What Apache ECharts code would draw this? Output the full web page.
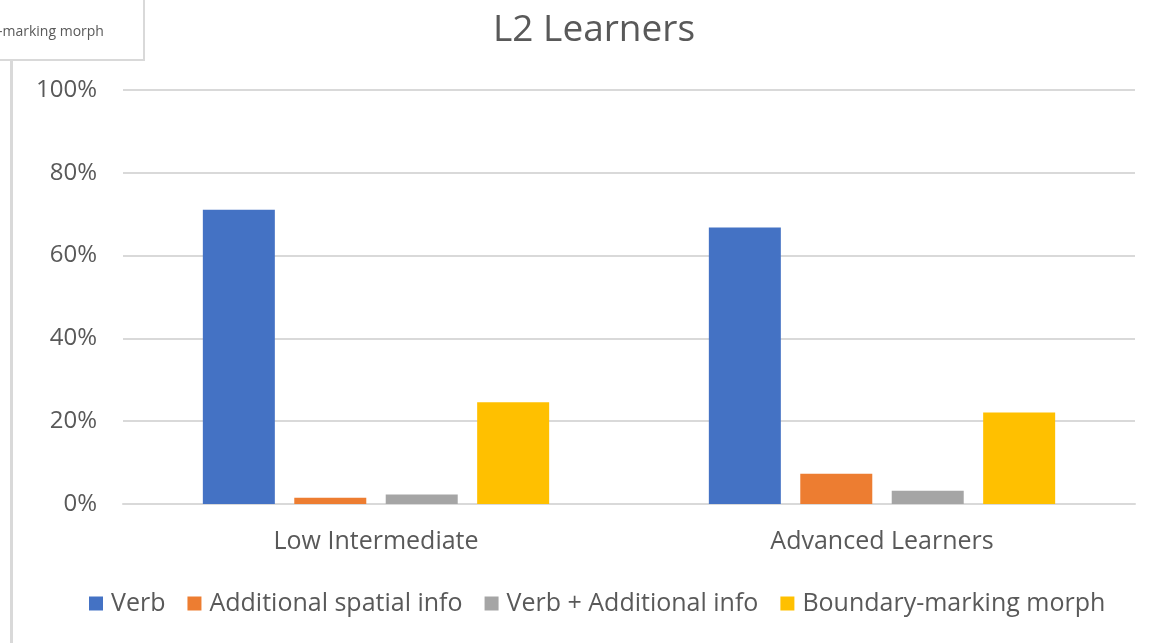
<!DOCTYPE html>
<html>
<head>
<meta charset="utf-8">
<script src="https://cdn.jsdelivr.net/npm/echarts@6/dist/echarts.min.js"></script>
<style>
    html, body { margin: 0; padding: 0; background: #fff; }
    #chart { width: 1151px; height: 643px; }
</style>
</head>
<body>
<div id="chart"></div>
<script>
var categories = ['Low Intermediate', 'Advanced Learners'];
var seriesNames = ['Verb', 'Additional spatial info', 'Verb + Additional info', 'Boundary-marking morph'];
var verb = [71.1, 66.8];
var spatial = [1.5, 7.3];
var verbPlus = [2.3, 3.2];
var boundary = [24.6, 22.1];
var yTicks = [0, 20, 40, 60, 80, 100];
var colors = ['#4472c4', '#ed7d31', '#a5a5a5', '#ffc000'];

(function () {
    'use strict';
    var chartDom = document.getElementById('chart');
    var myChart = echarts.init(chartDom);
    var font = 'Open Sans';
    var values = [verb, spatial, verbPlus, boundary];

    var series = seriesNames.map(function (name, i) {
        return {
            name: name,
            type: 'bar',
            data: values[i],
            barWidth: 72,
            barGap: '27%',
            itemStyle: { color: colors[i] }
        };
    });

    var option = {
        animation: false,
        title: {
            text: 'L2 Learners',
            left: 488,
            top: 7,
            textStyle: { fontFamily: font, fontSize: 37, fontWeight: 'normal', color: '#595959' }
        },
        grid: { left: 123, right: 16, top: 90, bottom: 139, containLabel: false },
        legend: {
            bottom: 22,
            left: 84,
            itemWidth: 14,
            itemHeight: 14,
            itemGap: 22,
            icon: 'rect',
            textStyle: { fontFamily: font, fontSize: 25, color: '#595959', padding: [0, 0, 0, 3] },
            data: seriesNames
        },
        xAxis: {
            type: 'category',
            data: categories,
            axisLine: { lineStyle: { color: '#d9d9d9', width: 2 } },
            axisTick: { show: false },
            axisLabel: { fontFamily: font, fontSize: 25, color: '#595959', margin: 25 }
        },
        yAxis: {
            type: 'value',
            min: yTicks[0],
            max: yTicks[yTicks.length - 1],
            interval: yTicks[1] - yTicks[0],
            axisLine: { show: false },
            axisTick: { show: false },
            splitLine: { lineStyle: { color: '#d9d9d9', width: 2 } },
            axisLabel: {
                fontFamily: font, fontSize: 24, color: '#595959', margin: 26,
                formatter: function (v) { return v + '%'; }
            }
        },
        graphic: [
            {
                type: 'rect',
                shape: { x: -2, y: -2, width: 146, height: 62 },
                style: { fill: '#fff', stroke: '#d9d9d9', lineWidth: 2 }
            },
            {
                type: 'text',
                left: -2,
                top: 25,
                style: { text: '-marking morph', fontFamily: font, fontSize: 14, fill: '#595959' }
            },
            {
                type: 'rect',
                shape: { x: 10, y: 61, width: 3, height: 600 },
                style: { fill: '#d9d9d9' }
            }
        ],
        series: series
    };

    myChart.setOption(option);
})();
</script>
</body>
</html>
